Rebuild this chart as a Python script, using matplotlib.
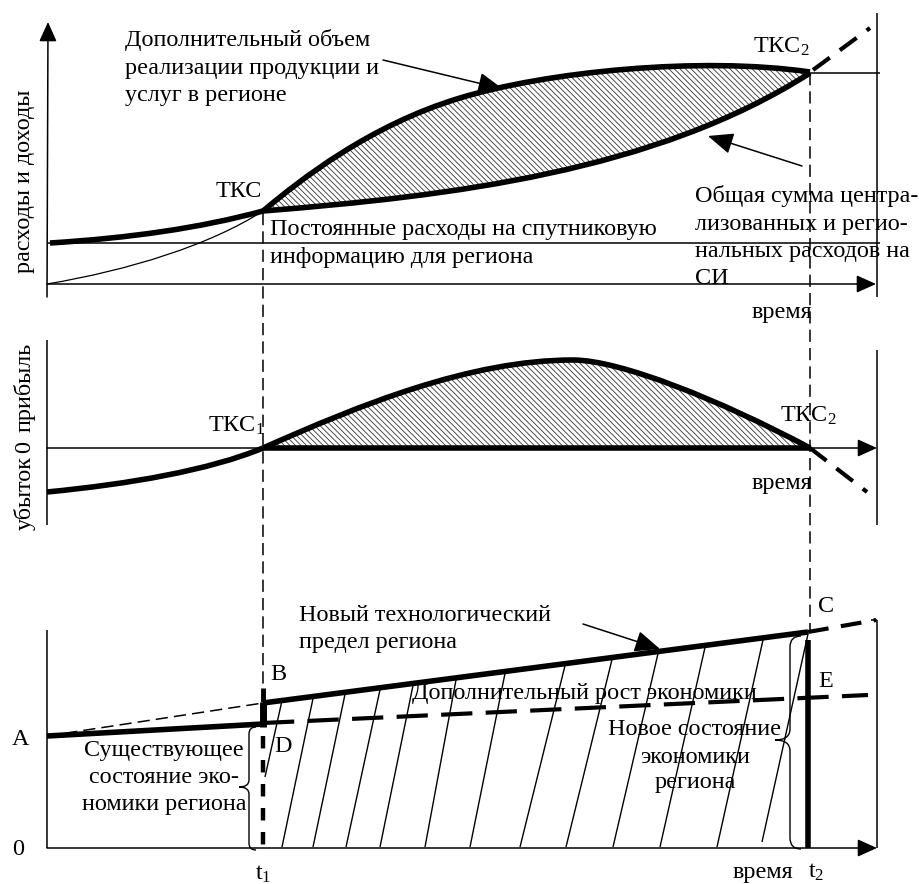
import numpy as np
import matplotlib
matplotlib.use("Agg")
import matplotlib.pyplot as plt
from matplotlib.path import Path
from matplotlib.patches import PathPatch

plt.rcParams['font.family'] = ['Liberation Serif', 'DejaVu Serif']
plt.rcParams['mathtext.fontset'] = 'custom'
plt.rcParams['mathtext.rm'] = 'Liberation Serif'
plt.rcParams['mathtext.it'] = 'Liberation Serif'
plt.rcParams['hatch.linewidth'] = 0.6

# --- key points of the scheme (picture coordinates, y grows downwards) ---
x_t1 = 263
x_t2 = 810
x_left = 47
x_right = 877

# top panel: costs and revenues
cost_seg1 = [(50, 243), (130, 238), (200, 228), (263, 211)]
cost_seg2 = [(263, 211), (450, 196), (655, 172), (810, 73)]
rev_seg1 = [(263, 211), (300, 180), (370, 125), (460, 98)]
rev_seg2 = [(460, 98), (545, 72), (700, 56), (810, 72)]
thin_seg = [(47, 284), (130, 270), (210, 245), (263, 211)]
cost_tail = [(813, 70), (870, 28)]

# middle panel: loss / profit
loss_seg = [(47, 492), (130, 484), (210, 470), (263, 448)]
hump_seg1 = [(263, 448), (360, 405), (470, 360), (573, 360)]
hump_seg2 = [(573, 360), (620, 360), (720, 400), (810, 448)]
profit_tail = [(810, 448), (867, 492)]

# bottom panel: state of economy
pt_A = (47, 736)
pt_D = (263, 724)
pt_B = (263, 703)
pt_C = (808, 632)
c_tail = (876, 620)
d_tail = (868, 695)
hatch_bottom = [282, 313, 346, 380, 425, 470, 520, 566, 613, 660, 717, 762]
hatch_top = [313, 345, 380, 413, 456, 505, 565, 612, 658, 705, 763, 808]


def bez(*segs):
    verts = [segs[0][0]]
    codes = [Path.MOVETO]
    for s in segs:
        verts += list(s[1:])
        codes += [Path.CURVE4] * 3
    return verts, codes


def line(ax, p, q, lw=1.1, ls='-', dashes=None):
    l, = ax.plot([p[0], q[0]], [p[1], q[1]], color='k', lw=lw, ls=ls,
                 solid_capstyle='butt', dash_capstyle='butt')
    if dashes is not None:
        l.set_dashes(dashes)
    return l


def arrow(ax, p, q, lw=1.1, hl=1.0, hw=0.45, ms=12):
    ax.annotate('', xy=q, xytext=p,
                arrowprops=dict(arrowstyle='-|>,head_length=%g,head_width=%g' % (hl, hw),
                                lw=lw, color='k', shrinkA=0, shrinkB=0,
                                mutation_scale=ms))


def brace(ax, xs, y0, y1, ym, w, r):
    verts = [(xs + r, y0), (xs, y0), (xs, y0 + r), (xs, ym - r), (xs, ym), (xs - w, ym),
             (xs, ym), (xs, ym + r), (xs, y1 - r), (xs, y1), (xs + r, y1)]
    codes = [Path.MOVETO, Path.CURVE3, Path.CURVE3, Path.LINETO, Path.CURVE3, Path.CURVE3,
             Path.CURVE3, Path.CURVE3, Path.LINETO, Path.CURVE3, Path.CURVE3]
    ax.add_patch(PathPatch(Path(verts, codes), fill=False, lw=1.0, ec='k'))


fig = plt.figure(figsize=(9.19, 8.84), dpi=100)
ax = fig.add_axes([0, 0, 1, 1])
ax.set_xlim(0, 919)
ax.set_ylim(884, 0)
ax.axis('off')

# ---------------- top panel ----------------
v1, c1 = bez(rev_seg1, rev_seg2)
v2, c2 = bez(cost_seg2[::-1])
verts = v1 + v2[1:] + [v1[0]]
codes = c1 + c2[1:] + [Path.CLOSEPOLY]
ax.add_patch(PathPatch(Path(verts, codes), fc='none', ec='0.2', lw=0, hatch='\\\\\\\\\\\\'))

arrow(ax, (x_left, 297), (x_left + 1, 22))
arrow(ax, (x_left, 284), (876, 284))
line(ax, (x_right, 13), (x_right, 297))
line(ax, (x_left, 243), (880, 243))
line(ax, (x_t2, 73), (880, 73))

v, c = bez(thin_seg)
ax.add_patch(PathPatch(Path(v, c), fill=False, lw=0.9, ec='k'))
v, c = bez(cost_seg1, cost_seg2)
ax.add_patch(PathPatch(Path(v, c), fill=False, lw=4, ec='k', capstyle='butt'))
v, c = bez(rev_seg1, rev_seg2)
ax.add_patch(PathPatch(Path(v, c), fill=False, lw=4, ec='k', capstyle='butt'))
line(ax, cost_tail[0], cost_tail[1], lw=3, dashes=(5, 3))

# ---------------- middle panel ----------------
v, c = bez(hump_seg1, hump_seg2)
ax.add_patch(PathPatch(Path(v + [hump_seg1[0], hump_seg1[0]], c + [Path.LINETO, Path.CLOSEPOLY]),
                       fc='none', ec='0.2', lw=0, hatch='\\\\\\\\\\\\'))
line(ax, (x_left, 340), (x_left, 525))
arrow(ax, (x_left, 448), (x_right, 448))
line(ax, (x_right, 350), (x_right, 525))
v, c = bez(loss_seg)
ax.add_patch(PathPatch(Path(v, c), fill=False, lw=4, ec='k', capstyle='butt'))
v, c = bez(hump_seg1, hump_seg2)
ax.add_patch(PathPatch(Path(v, c), fill=False, lw=4, ec='k', capstyle='butt'))
line(ax, (x_t1, 448), (x_t2, 448), lw=4)
line(ax, profit_tail[0], profit_tail[1], lw=3, dashes=(5, 3))

# ---------------- vertical guides ----------------
line(ax, (x_t1, 213), (x_t1, 688), lw=1.1, dashes=(8, 4))
line(ax, (x_t1, 688), (x_t1, 702), lw=3.5)
line(ax, (x_t2, 73), (x_t2, 632), lw=1.1, dashes=(8, 4))

# ---------------- bottom panel ----------------
line(ax, (x_left, 630), (x_left, 848))
arrow(ax, (x_left, 848), (x_right, 848))
line(ax, (x_right, 620), (x_right, 848))
line(ax, (871, 620), (x_right, 620))

bc_x = [pt_B[0], pt_C[0]]
bc_y = [pt_B[1], pt_C[1]]
for xb, xt in zip(hatch_bottom, hatch_top):
    yt = np.interp(xt, bc_x, bc_y)
    line(ax, (xb, 847 if xb != 762 else 842), (xt, yt + 2), lw=1.0)
line(ax, (265, 777), (282, np.interp(282, bc_x, bc_y)), lw=1.0)

line(ax, pt_A, pt_B, lw=1.1, dashes=(8, 4))
line(ax, pt_A, pt_D, lw=4)
line(ax, (x_t1, pt_D[1] + 3), (x_t1, pt_B[1] - 1), lw=5)
line(ax, pt_B, pt_C, lw=4)
line(ax, pt_C, c_tail, lw=3, dashes=(5, 3))
line(ax, (x_t1, pt_D[1] - 1), d_tail, lw=3, dashes=(7.5, 3.2))
line(ax, (x_t1, 736), (x_t1, 846), lw=3.2, dashes=(2.8, 2.6))
line(ax, (808, 640), (808, 848), lw=4)

brace(ax, 249, 727, 850, 787, 10, 7)
brace(ax, 790, 636, 849, 740, 15, 11)

# arrows to the curves
arrow(ax, (383, 60), (503, 89), lw=1.1, hl=1.3, hw=0.55)
arrow(ax, (802, 166), (708, 136), lw=1.1, hl=1.3, hw=0.55)
arrow(ax, (583, 624), (660, 649), lw=1.1, hl=1.3, hw=0.55)

# ---------------- texts ----------------
fs = 17.4
texts = [
    (125, 46, "Дополнительный объем", 'left'),
    (125, 74, "реализации продукции и", 'left'),
    (125, 101, "услуг в регионе", 'left'),
    (262, 197, "ТКС", 'right'),
    (753, 53, "ТКС$_2$", 'left'),
    (270, 235, "Постоянные расходы на спутниковую", 'left'),
    (270, 263, "информацию для региона", 'left'),
    (695, 202, "Общая сумма центра-", 'left'),
    (695, 230, "лизованных и регио-", 'left'),
    (695, 257, "нальных расходов на", 'left'),
    (695, 284, "СИ", 'left'),
    (752, 318, "время", 'left'),
    (208, 432, "ТКС$_1$", 'left'),
    (780, 422, "ТКС$_2$", 'left'),
    (752, 489, "время", 'left'),
    (299, 621, "Новый технологический", 'left'),
    (299, 648, "предел региона", 'left'),
    (270, 680, "B", 'left'),
    (274, 752, "D", 'left'),
    (818, 612, "C", 'left'),
    (818, 687, "E", 'left'),
    (12, 745, "A", 'left'),
    (12, 855, "0", 'left'),
    (412, 699, "Дополнительный рост экономики", 'left'),
    (164, 756, "Существующее", 'center'),
    (164, 783, "состояние эко-", 'center'),
    (164, 810, "номики региона", 'center'),
    (695, 735, "Новое состояние", 'center'),
    (695, 763, "экономики", 'center'),
    (695, 788, "региона", 'center'),
    (263, 880, "t$_1$", 'center'),
    (733, 878, "время", 'left'),
    (808, 878, "t$_2$", 'left'),
]
for x, y, s, ha in texts:
    ax.text(x, y, s, fontsize=fs, ha=ha, va='baseline')

ax.text(25, 181, "расходы и доходы", fontsize=fs, rotation=90, ha='center', va='center')
ax.text(25, 387, "прибыль", fontsize=fs, rotation=90, ha='center', va='center')
ax.text(25, 447, "0", fontsize=fs, rotation=90, ha='center', va='center')
ax.text(25, 493, "убыток", fontsize=fs, rotation=90, ha='center', va='center')

fig.savefig("out.png", dpi=100)
